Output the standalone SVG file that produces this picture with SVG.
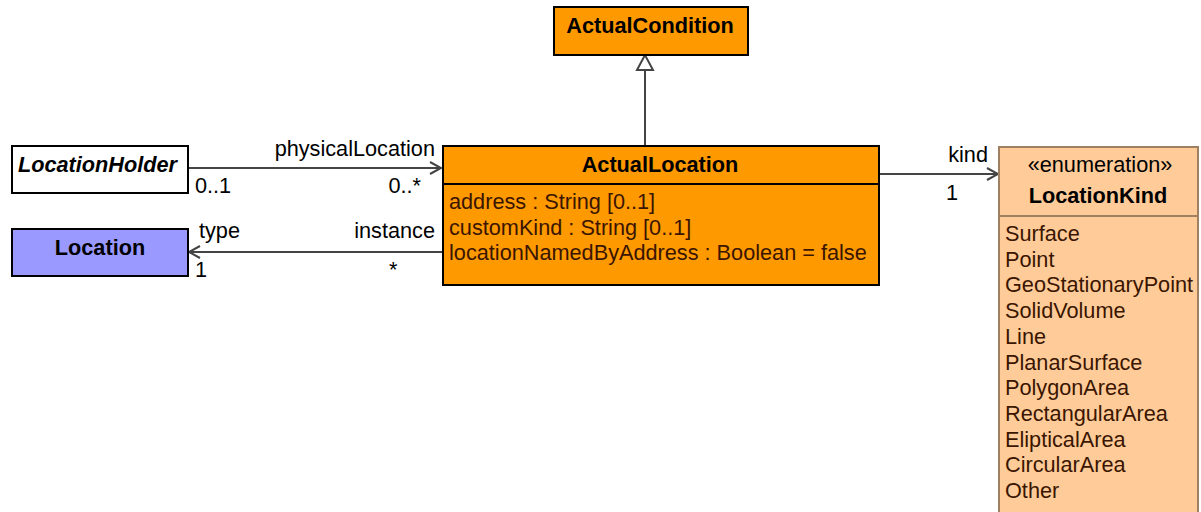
<svg xmlns="http://www.w3.org/2000/svg" width="1201" height="512" viewBox="0 0 1201 512">
<style>
text{font-family:"Liberation Sans",Arial,sans-serif;font-size:21.7px;fill:#000}
.b{font-weight:bold}
.bi{font-weight:bold;font-style:italic}
.m{text-anchor:middle}
.e{text-anchor:end}
.attr{fill:#3a1500}
.box{stroke:#000;stroke-width:2}
.enum{fill:#FFCC99;stroke:#A08060;stroke-width:2}
.ln{stroke:#444;stroke-width:2;fill:none}
</style>
<defs>
<marker id="open" markerWidth="14" markerHeight="14" refX="12" refY="7" orient="auto" markerUnits="userSpaceOnUse">
<path d="M1,1 L12,7 L1,13" fill="none" stroke="#444" stroke-width="2"/>
</marker>
</defs>
<rect width="1201" height="512" fill="#fff"/>
<g id="connectors">
<line class="ln" x1="645" y1="146" x2="645" y2="70"/>
<polygon points="645,55 637,70 653,70" fill="#fff" stroke="#444" stroke-width="2"/>
<line class="ln" x1="188" y1="168" x2="441" y2="168" marker-end="url(#open)"/>
<text x="435" y="156" class="e">physicalLocation</text>
<text x="195" y="193">0..1</text>
<text x="421" y="193" class="e">0..*</text>
<line class="ln" x1="442" y1="252" x2="189" y2="252" marker-end="url(#open)"/>
<text x="199" y="238">type</text>
<text x="435" y="238" class="e">instance</text>
<text x="195" y="277">1</text>
<text x="389" y="277">*</text>
<line class="ln" x1="879" y1="174" x2="998" y2="174" marker-end="url(#open)"/>
<text x="988" y="162" class="e">kind</text>
<text x="946" y="200">1</text>
</g>
<g id="ActualCondition">
<rect class="box" x="554" y="7" width="194" height="48" fill="#FF9900"/>
<text x="650" y="33" class="b m">ActualCondition</text>
</g>
<g id="ActualLocation">
<rect class="box" x="443" y="146" width="436" height="139" fill="#FF9900"/>
<line class="box" x1="443" y1="184" x2="879" y2="184"/>
<text x="660" y="172" class="b m">ActualLocation</text>
<text x="449" y="209" class="attr">address : String [0..1]</text>
<text x="449" y="235" class="attr">customKind : String [0..1]</text>
<text x="449" y="260" class="attr">locationNamedByAddress : Boolean = false</text>
</g>
<g id="LocationHolder">
<rect class="box" x="12" y="146" width="176" height="47" fill="#fff"/>
<text x="18" y="172" class="bi">LocationHolder</text>
</g>
<g id="Location">
<rect class="box" x="12" y="229" width="176" height="47" fill="#9999FF"/>
<text x="100" y="255" class="b m">Location</text>
</g>
<g id="LocationKind">
<rect class="enum" x="999" y="147" width="199" height="380"/>
<line class="enum" x1="999" y1="216" x2="1198" y2="216"/>
<text x="1100" y="172" class="m">«enumeration»</text>
<text x="1098" y="203" class="b m">LocationKind</text>
<text x="1005" y="241" class="attr">Surface</text>
<text x="1005" y="267" class="attr">Point</text>
<text x="1005" y="292" class="attr">GeoStationaryPoint</text>
<text x="1005" y="318" class="attr">SolidVolume</text>
<text x="1005" y="344" class="attr">Line</text>
<text x="1005" y="370" class="attr">PlanarSurface</text>
<text x="1005" y="395" class="attr">PolygonArea</text>
<text x="1005" y="421" class="attr">RectangularArea</text>
<text x="1005" y="447" class="attr">ElipticalArea</text>
<text x="1005" y="472" class="attr">CircularArea</text>
<text x="1005" y="498" class="attr">Other</text>
</g>
</svg>
